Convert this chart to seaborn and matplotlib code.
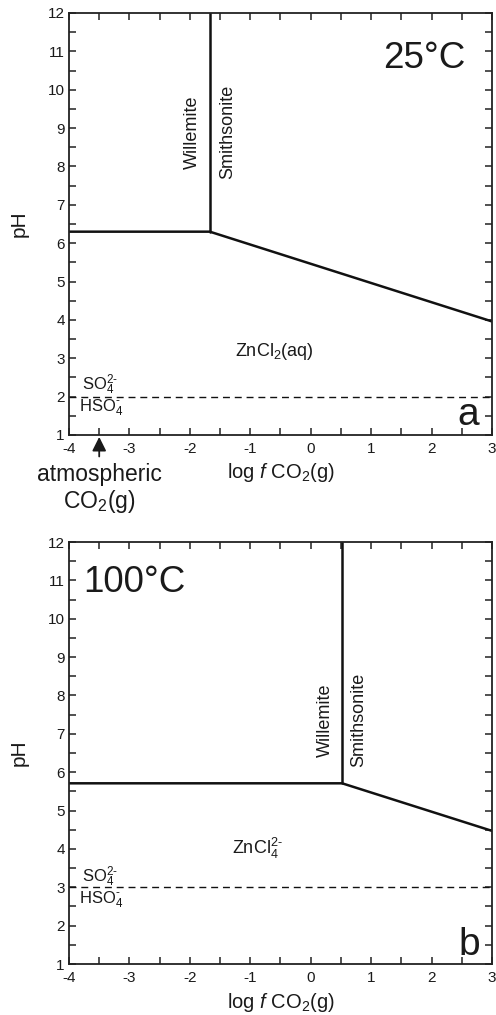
import matplotlib
matplotlib.use("Agg")
import matplotlib.pyplot as plt
import seaborn as sns
from matplotlib.ticker import MultipleLocator

sns.set_style("ticks")
plt.rcParams['font.family'] = ['Liberation Sans', 'DejaVu Sans']
plt.rcParams['axes.unicode_minus'] = False
plt.rcParams['mathtext.fontset'] = 'custom'
plt.rcParams['mathtext.rm'] = 'Liberation Sans'
plt.rcParams['mathtext.it'] = 'Liberation Sans:italic'

# ---- data ----
# 25 C panel
t25_vert_x = [-1.67, -1.67]
t25_vert_y = [6.3, 12.0]
t25_bound_x = [-4.0, -1.67, 3.0]
t25_bound_y = [6.3, 6.3, 3.96]
t25_sulfate_ph = 2.0
# 100 C panel
t100_vert_x = [0.52, 0.52]
t100_vert_y = [5.71, 12.0]
t100_bound_x = [-4.0, 0.52, 3.0]
t100_bound_y = [5.71, 5.71, 4.47]
t100_sulfate_ph = 3.0

atm_co2 = -3.5
x_ticks = [-4, -3, -2, -1, 0, 1, 2, 3]
y_ticks = [1, 2, 3, 4, 5, 6, 7, 8, 9, 10, 11, 12]

W, H = 496, 1015
fig = plt.figure(figsize=(W / 100, H / 100), dpi=100)
ax1 = fig.add_axes([69 / W, (H - 435) / H, 423 / W, 422 / H])
ax2 = fig.add_axes([69 / W, (H - 964) / H, 423 / W, 422 / H])

tc = '#1a1a1a'

def style(ax):
    ax.set_xlim(-4, 3)
    ax.set_ylim(1, 12)
    ax.set_xticks(x_ticks)
    ax.set_yticks(y_ticks)
    ax.xaxis.set_minor_locator(MultipleLocator(0.5))
    ax.yaxis.set_minor_locator(MultipleLocator(0.5))
    ax.tick_params(which='both', direction='in', top=True, right=True,
                   length=5, width=1.1, labelsize=11, color='#222222',
                   labelcolor=tc)
    ax.tick_params(axis='x', pad=5)
    ax.tick_params(axis='y', pad=3)
    for s in ax.spines.values():
        s.set_linewidth(1.3)
        s.set_color('#222222')
    ax.set_ylabel('pH', fontsize=15, labelpad=14, color=tc)
    ax.set_xlabel(r'log $\mathit{f}$ CO$_2$(g)', fontsize=14.5, labelpad=4, color=tc)

def draw(ax, vx, vy, bx, by, sph):
    sns.lineplot(x=vx, y=vy, ax=ax, color='#111111', lw=1.8, sort=False, estimator=None)
    sns.lineplot(x=bx, y=by, ax=ax, color='#111111', lw=1.8, sort=False, estimator=None)
    sns.lineplot(x=[-4, 3], y=[sph, sph], ax=ax, color='#111111', lw=1.0,
                 linestyle=(0, (5, 3.5)), estimator=None)

draw(ax1, t25_vert_x, t25_vert_y, t25_bound_x, t25_bound_y, t25_sulfate_ph)
draw(ax2, t100_vert_x, t100_vert_y, t100_bound_x, t100_bound_y, t100_sulfate_ph)
style(ax1)
style(ax2)

# panel a texts
ax1.text(2.556, 10.57, '25°C', fontsize=26.5, ha='right', va='baseline', color=tc)
ax1.text(2.6, 1.27, 'a', fontsize=28, ha='center', va='baseline', color=tc)
ax1.text(-1.95, 8.88, 'Willemite', rotation=90, fontsize=13, ha='center', va='center', color=tc)
ax1.text(-1.38, 8.9, 'Smithsonite', rotation=90, fontsize=13, ha='center', va='center', color=tc)
ax1.text(-0.6, 3.17, 'ZnCl$_2$(aq)', fontsize=13, ha='center', va='center', color=tc)
ax1.text(-3.78, 2.3, 'SO$_4^{2\\text{-}}$', fontsize=12, ha='left', va='center', color=tc)
ax1.text(-3.83, 1.7, 'HSO$_4^{\\text{-}}$', fontsize=12, ha='left', va='center', color=tc)
ax1.annotate('', xy=(atm_co2, 0.95), xycoords='data',
             xytext=(atm_co2, 0.44), textcoords='data',
             arrowprops=dict(arrowstyle='-|>,head_length=0.6,head_width=0.3',
                             color=tc, lw=1.3, mutation_scale=14,
                             shrinkA=0, shrinkB=0),
             annotation_clip=False)
ax1.text(atm_co2, -0.4, 'atmospheric\nCO$_2$(g)', fontsize=16.5, ha='center', va='center',
         color=tc, linespacing=1.1)

# panel b texts
ax2.text(-3.77, 10.69, '100°C', fontsize=26.5, ha='left', va='baseline', color=tc)
ax2.text(2.62, 1.24, 'b', fontsize=28, ha='center', va='baseline', color=tc)
ax2.text(0.24, 7.36, 'Willemite', rotation=90, fontsize=13, ha='center', va='center', color=tc)
ax2.text(0.80, 7.36, 'Smithsonite', rotation=90, fontsize=13, ha='center', va='center', color=tc)
ax2.text(-0.88, 4.02, 'ZnCl$_4^{2\\text{-}}$', fontsize=13, ha='center', va='center', color=tc)
ax2.text(-3.78, 3.28, 'SO$_4^{2\\text{-}}$', fontsize=12, ha='left', va='center', color=tc)
ax2.text(-3.83, 2.68, 'HSO$_4^{\\text{-}}$', fontsize=12, ha='left', va='center', color=tc)

fig.savefig('out.png', dpi=100)
